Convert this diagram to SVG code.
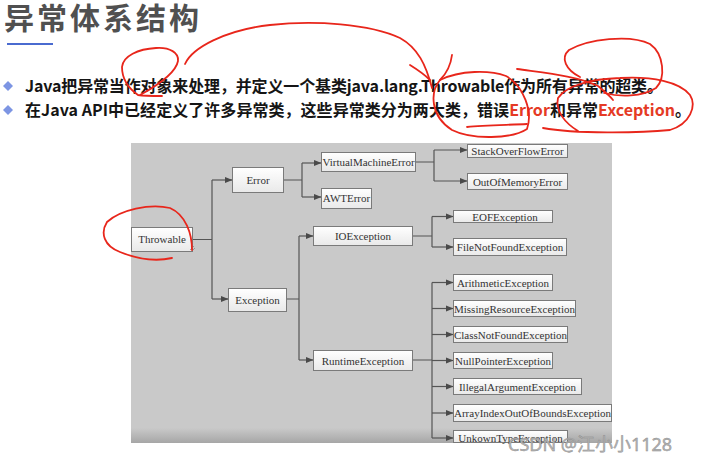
<svg xmlns="http://www.w3.org/2000/svg" width="704" height="463" viewBox="0 0 704 463">
<defs>
<linearGradient id="nodeFill" x1="0" y1="0" x2="0" y2="1">
<stop offset="0" stop-color="#ffffff"/>
<stop offset="1" stop-color="#e9e9e9"/>
</linearGradient>
<linearGradient id="panelBottom" x1="0" y1="0" x2="0" y2="1">
<stop offset="0" stop-color="#c9c9c9"/>
<stop offset="1" stop-color="#a6a6a6"/>
</linearGradient>
<marker id="arr" viewBox="0 0 8 8" refX="7.5" refY="4" markerWidth="8" markerHeight="8" markerUnits="userSpaceOnUse" orient="auto">
<path d="M0,0.8 L8,4 L0,7.2 Z" fill="#4a4a4a"/>
</marker>
<style>
.title{font-family:"Noto Sans CJK SC","Noto Sans",sans-serif;font-weight:bold;font-size:30px;letter-spacing:3px;fill:#505050}
.bul{font-family:"Noto Sans CJK SC","Noto Sans",sans-serif;font-weight:bold;font-size:16px;fill:#151515}
.red{fill:#e53a25}
.box{fill:url(#nodeFill);stroke:#7a7a7a;stroke-width:1}
.lbl{font-family:"Liberation Serif","Times New Roman",serif;font-size:11px;fill:#333;text-anchor:middle}
.con{fill:none;stroke:#555;stroke-width:1.2}
.ink{fill:none;stroke:#e8261b;stroke-width:1.8;stroke-linecap:round;stroke-linejoin:round}
.wm{font-family:"Noto Sans","DejaVu Sans","Noto Sans CJK SC",sans-serif;font-size:18px;fill:#b4b4b4;stroke:#8a8a8a;stroke-width:0.4}
</style>
</defs>
<rect width="704" height="463" fill="#ffffff"/>

<!-- heading -->
<text class="title" x="4" y="29">异常体系结构</text>
<line x1="7" y1="44" x2="53" y2="44" stroke="#4a6bd0" stroke-width="2"/>

<!-- bullets -->
<path d="M8,81 L13,86 L8,91 L3,86 Z" fill="#7d95e3"/>
<path d="M8,105 L13,110 L8,115 L3,110 Z" fill="#7d95e3"/>
<text class="bul" x="25" y="92" textLength="638" lengthAdjust="spacing">Java把异常当作对象来处理，并定义一个基类java.lang.Throwable作为所有异常的超类。</text>
<text class="bul" x="25" y="116" textLength="666" lengthAdjust="spacing">在Java API中已经定义了许多异常类，这些异常类分为两大类，错误<tspan class="red">Error</tspan>和异常<tspan class="red">Exception</tspan>。</text>

<!-- panel -->
<rect x="131" y="143" width="481" height="300" fill="#c9c9c9"/>
<rect x="131" y="428" width="481" height="15" fill="url(#panelBottom)"/>

<!-- connectors -->
<g id="connectors">
<path class="con" d="M193,239.5 H212 M212,180 V299"/>
<path class="con" d="M212,180 H232" marker-end="url(#arr)"/>
<path class="con" d="M212,299 H228" marker-end="url(#arr)"/>
<path class="con" d="M284,180 H302 M302,163 V197"/>
<path class="con" d="M302,163 H321" marker-end="url(#arr)"/>
<path class="con" d="M302,197 H321" marker-end="url(#arr)"/>
<path class="con" d="M287,299 H299 M299,236 V360"/>
<path class="con" d="M299,236 H313" marker-end="url(#arr)"/>
<path class="con" d="M299,360 H313" marker-end="url(#arr)"/>
<path class="con" d="M416,162 H434 M434,150 V181"/>
<path class="con" d="M434,150 H467" marker-end="url(#arr)"/>
<path class="con" d="M434,181 H467" marker-end="url(#arr)"/>
<path class="con" d="M413,236 H432 M432,216.5 V247"/>
<path class="con" d="M432,216.5 H453" marker-end="url(#arr)"/>
<path class="con" d="M432,247 H453" marker-end="url(#arr)"/>
<path class="con" d="M413,360 H432 M432,282.5 V438"/>
<path class="con" d="M432,282.5 H453" marker-end="url(#arr)"/>
<path class="con" d="M432,308.5 H453" marker-end="url(#arr)"/>
<path class="con" d="M432,334.5 H453" marker-end="url(#arr)"/>
<path class="con" d="M432,360.5 H453" marker-end="url(#arr)"/>
<path class="con" d="M432,386.5 H453" marker-end="url(#arr)"/>
<path class="con" d="M432,413 H453" marker-end="url(#arr)"/>
<path class="con" d="M432,438 H453" marker-end="url(#arr)"/>
</g>

<!-- nodes -->
<g id="throwable"><rect class="box" x="131.5" y="227.5" width="61" height="24"/><text class="lbl" x="162" y="243">Throwable</text>
<path d="M190,250 L194,246 M192,251 L195,248" stroke="#888" stroke-width="0.8"/></g>
<g id="error"><rect class="box" x="232.5" y="167.5" width="51" height="25"/><text class="lbl" x="258" y="184">Error</text></g>
<g id="exception"><rect class="box" x="228.5" y="288.5" width="58" height="23"/><text class="lbl" x="257.5" y="303.5">Exception</text></g>
<g id="virtualmachineerror"><rect class="box" x="321.5" y="152.5" width="94" height="19"/><text class="lbl" x="368.5" y="166">VirtualMachineError</text></g>
<g id="awterror"><rect class="box" x="321.5" y="188.5" width="50" height="20"/><text class="lbl" x="346.5" y="202">AWTError</text></g>
<g id="ioexception"><rect class="box" x="313.5" y="226.5" width="99" height="19"/><text class="lbl" x="363" y="240">IOException</text></g>
<g id="runtimeexception"><rect class="box" x="313.5" y="350.5" width="99" height="20"/><text class="lbl" x="363" y="364.5">RuntimeException</text></g>
<g id="stackoverflowerror"><rect class="box" x="467.5" y="144.5" width="100" height="13"/><text class="lbl" x="517.5" y="155">StackOverFlowError</text></g>
<g id="outofmemoryerror"><rect class="box" x="467.5" y="173.5" width="100" height="16"/><text class="lbl" x="517.5" y="185.5">OutOfMemoryError</text></g>
<g id="eofexception"><rect class="box" x="453.5" y="210.5" width="99" height="12"/><text class="lbl" x="505" y="220.5">EOFException</text></g>
<g id="filenotfoundexception"><rect class="box" x="453.5" y="238.5" width="113" height="17"/><text class="lbl" x="510" y="251">FileNotFoundException</text></g>
<g id="arithmeticexception"><rect class="box" x="453.5" y="274.5" width="99" height="16"/><text class="lbl" x="503" y="286.5">ArithmeticException</text></g>
<g id="missingresourceexception"><rect class="box" x="453.5" y="300.5" width="122" height="16"/><text class="lbl" x="514.5" y="312.5">MissingResourceException</text></g>
<g id="classnotfoundexception"><rect class="box" x="453.5" y="326.5" width="114" height="16"/><text class="lbl" x="510.5" y="338.5">ClassNotFoundException</text></g>
<g id="nullpointerexception"><rect class="box" x="453.5" y="352.5" width="99" height="16"/><text class="lbl" x="503" y="364.5">NullPointerException</text></g>
<g id="illegalargumentexception"><rect class="box" x="453.5" y="378.5" width="128" height="16"/><text class="lbl" x="517.5" y="390.5">IllegalArgumentException</text></g>
<g id="arrayindexoutofboundsexception"><rect class="box" x="453.5" y="404.5" width="158" height="17"/><text class="lbl" x="532.5" y="417">ArrayIndexOutOfBoundsException</text></g>
<g id="unkowntypeexception"><rect class="box" x="453.5" y="430.5" width="114" height="12"/><text class="lbl" x="510.5" y="441.5">UnkownTypeException</text></g>

<!-- red hand annotations -->
<g id="annotations">
<path class="ink" d="M162,96 C152,96 144,96 138,95 C128,88 122,78 122,67 C123,56 138,49 156,48 C170,47 179,53 178,61 C176,72 160,84 140,95"/>
<path class="ink" d="M185,64 C192,48 225,30 270,25 C315,20 370,24 400,38 C418,48 426,65 432,88"/>
<path class="ink" d="M410,65 C418,70 424,74 430,80"/>
<path class="ink" d="M452,55 C451,63 448,72 440,80"/>
<path class="ink" d="M440,80 C430,92 430,116 452,130 C472,140 512,139 527,129 C533,112 524,86 506,76 C490,70 460,70 440,80"/>
<path class="ink" d="M467,127 C485,125 510,125 527,124"/>
<path class="ink" d="M517,69 C545,73 578,76 598,86 C605,92 610,96 613,100"/>
<path class="ink" d="M580,77 C566,70 560,58 569,50 C588,39 630,34 650,44 C664,54 666,78 656,88 C642,97 620,97 604,93"/>
<path class="ink" d="M543,128 C575,134 640,133 670,130 C690,124 697,106 690,95 C680,82 652,76 620,78 C590,79 566,86 558,98 C555,111 565,123 578,131"/>
<path class="ink" d="M192,250 C192,234 186,215 170,208 C150,203 120,210 107,222 C100,233 104,246 120,252 C135,258 155,262 172,258"/>
</g>

<!-- watermark -->
<text class="wm" x="508" y="451">CSDN @江小小1128</text>
</svg>
